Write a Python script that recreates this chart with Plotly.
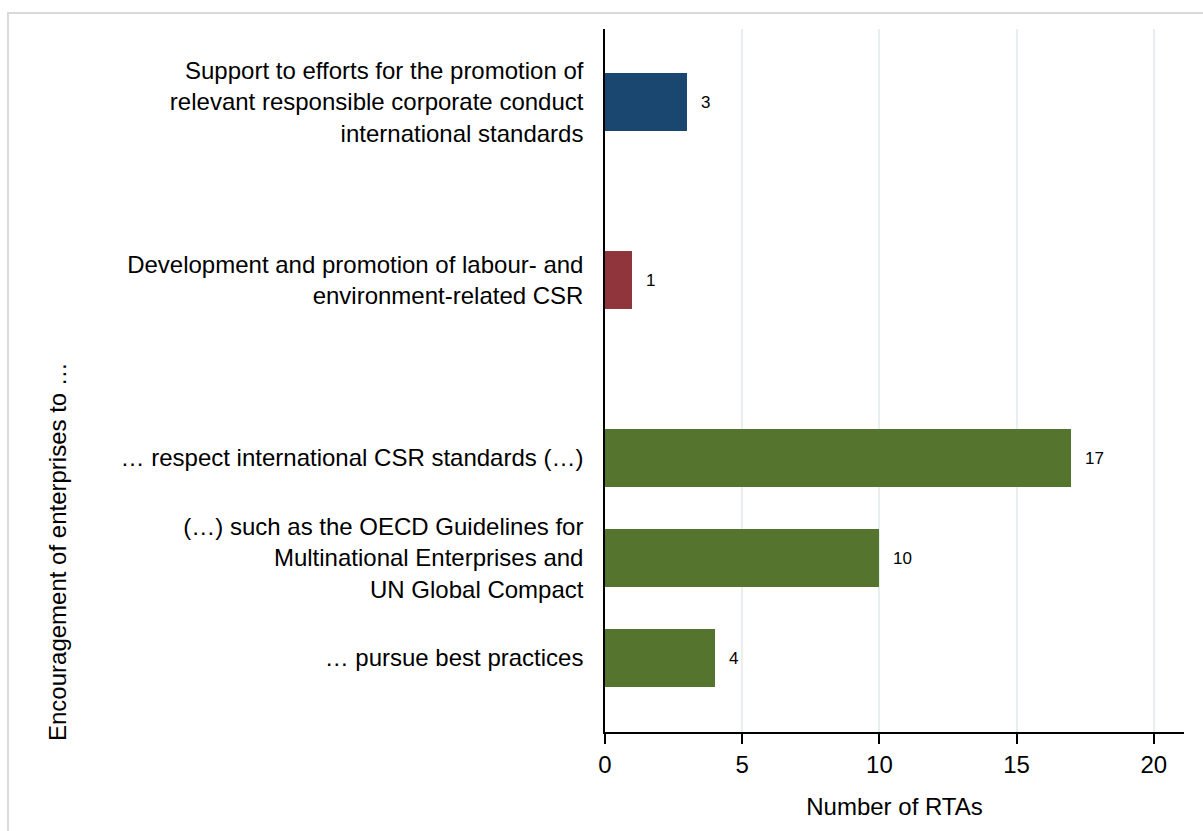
import plotly.graph_objects as go

# ---- data -------------------------------------------------------------
labels = [
    "Support to efforts for the promotion of<br>relevant responsible corporate conduct<br>international standards",
    "Development and promotion of labour- and<br>environment-related CSR",
    "… respect international CSR standards (…)",
    "(…) such as the OECD Guidelines for<br>Multinational Enterprises and<br>UN Global Compact",
    "… pursue best practices",
]
groups = ["promotion", "labour_env", "encourage", "encourage", "encourage"]
values = [3, 1, 17, 10, 4]
x_ticks = [0, 5, 10, 15, 20]

# ---- styling ----------------------------------------------------------
group_colors = {"promotion": "#1a476f", "labour_env": "#90353b", "encourage": "#55752f"}
FONT = "Liberation Sans, Arial, Helvetica, sans-serif"
W, H = 1203, 831
PL, PR, PT, PB = 605, 1184, 29, 732          # plot area in pixels
X_MAX = 21.1
Y_MIN, Y_MAX = -0.74, 6.29
GROUP_GAP = 1.78                              # spacing between groups (rows)

# row positions: bottom-up, unit spacing inside a group, wider between groups
pos = [0.0] * len(labels)
y = 0.0
for i in range(len(labels) - 1, -1, -1):
    if i < len(labels) - 1:
        y += 1.0 if groups[i] == groups[i + 1] else GROUP_GAP
    pos[i] = y


def px_x(px):
    return (px - PL) / (PR - PL)


def px_y(py):
    return (PB - py) / (PB - PT)


fig = go.Figure(
    go.Bar(
        x=values,
        y=pos,
        orientation="h",
        width=0.58,
        marker=dict(color=[group_colors[g] for g in groups], line=dict(width=0)),
        hoverinfo="skip",
    )
)

annotations = []
# value labels next to the bars
for v, p in zip(values, pos):
    annotations.append(dict(
        x=v, xref="x", y=p, yref="y", text=str(v), showarrow=False,
        xanchor="left", yanchor="middle", xshift=12,
        font=dict(family=FONT, size=17, color="#000000"),
    ))
# vertical axis title
annotations.append(dict(
    x=px_x(57), xref="paper", y=px_y(552), yref="paper",
    text="Encouragement of enterprises to …", textangle=-90, showarrow=False,
    xanchor="center", yanchor="middle",
    font=dict(family=FONT, size=24, color="#000000"),
))

# light frame around the graph region
shapes = [dict(
    type="rect", xref="paper", yref="paper",
    x0=px_x(8), x1=px_x(1215), y0=px_y(13), y1=px_y(845),
    line=dict(color="#d9d9d9", width=2), fillcolor="rgba(0,0,0,0)", layer="below",
)]

fig.update_layout(
    width=W, height=H,
    margin=dict(l=PL, r=W - PR, t=PT, b=H - PB, pad=0),
    paper_bgcolor="#ffffff", plot_bgcolor="#ffffff",
    showlegend=False,
    font=dict(family=FONT, size=24, color="#000000"),
    annotations=annotations,
    shapes=shapes,
    bargap=0,
)
fig.update_xaxes(
    range=[0, X_MAX], tickvals=x_ticks, ticktext=[str(t) for t in x_ticks],
    showgrid=True, gridcolor="#e8eff1", gridwidth=1.5,
    showline=True, linecolor="#000000", linewidth=1.5,
    ticks="outside", ticklen=10, tickwidth=1.5, tickcolor="#000000",
    tickfont=dict(family=FONT, size=24, color="#000000"),
    zeroline=False,
    title=dict(text="Number of RTAs", standoff=22,
               font=dict(family=FONT, size=24, color="#000000")),
)
fig.update_yaxes(
    range=[Y_MIN, Y_MAX], tickvals=pos, ticktext=labels,
    tickfont=dict(family=FONT, size=24, color="#000000"),
    ticks="", ticklabelstandoff=15,
    showgrid=False, zeroline=False,
    showline=True, linecolor="#000000", linewidth=1.5,
)

fig.write_html("out.html")
